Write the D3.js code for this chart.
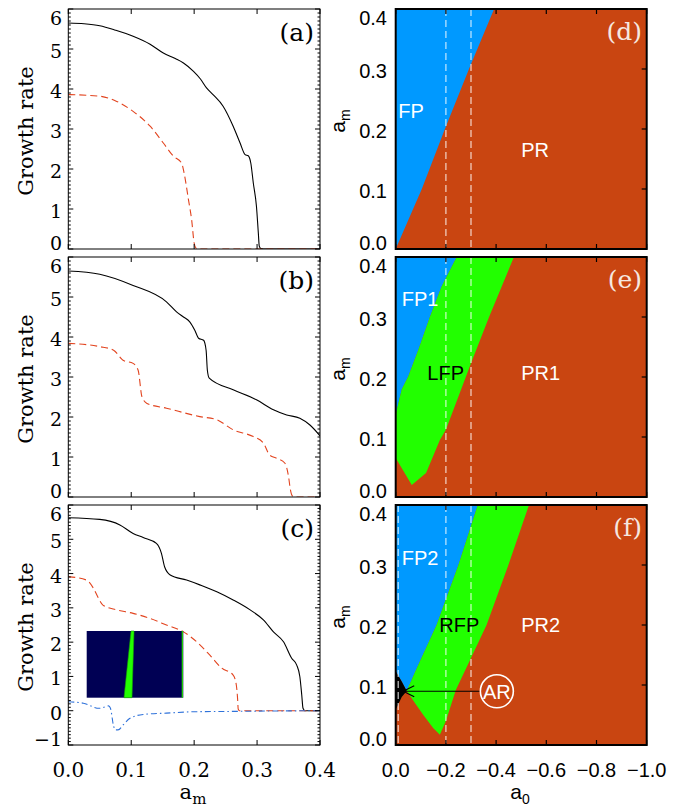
<!DOCTYPE html>
<html><head><meta charset="utf-8">
<script src="https://cdn.jsdelivr.net/npm/d3@7"></script>
<style>body{margin:0;background:#fff}</style>
</head><body>
<svg id="fig" width="692" height="808"></svg>
<script>
// ---------- tick values and labels ----------
const amTicks = [0, 0.1, 0.2, 0.3, 0.4];
const amTickLabels = ["0.0", "0.1", "0.2", "0.3", "0.4"];
const a0Ticks = [0, -0.2, -0.4, -0.6, -0.8, -1.0];
const a0TickLabels = ["0.0", "\u22120.2", "\u22120.4", "\u22120.6", "\u22120.8", "\u22121.0"];
const rateTicksAB = [0, 1, 2, 3, 4, 5, 6];
const rateTicksC = [-1, 0, 1, 2, 3, 4, 5, 6];
const leftLetters = ["(a)", "(b)", "(c)"];
const rightLetters = ["(d)", "(e)", "(f)"];

// ---------- growth rate vs a_m : [a_m, rate] ----------
const solidA = [[0,5.65],[0.025,5.63],[0.05,5.58],[0.075,5.47],[0.103,5.32],[0.13,5.12],[0.151,4.9],[0.17,4.76],[0.183,4.65],[0.199,4.44],[0.21,4.25],[0.22,4.02],[0.23,3.86],[0.246,3.57],[0.262,3.07],[0.273,2.65],[0.281,2.36],[0.286,2.33],[0.29,2.15],[0.294,1.65],[0.299,1.07],[0.302,0.4],[0.3035,0.07],[0.306,0.01],[0.31,0],[0.4,0]];
const dashA = [[0,3.86],[0.05,3.82],[0.077,3.69],[0.103,3.44],[0.13,3.07],[0.151,2.65],[0.167,2.32],[0.18,2.15],[0.184,1.9],[0.191,1.23],[0.196,0.73],[0.2,0.15],[0.203,0.02],[0.206,0],[0.4,0]];

const solidB = [[0,5.65],[0.05,5.57],[0.103,5.29],[0.156,4.88],[0.172,4.63],[0.183,4.5],[0.193,4.38],[0.201,4.17],[0.207,3.97],[0.215,3.92],[0.219,3.67],[0.221,3.17],[0.224,2.97],[0.262,2.68],[0.299,2.43],[0.326,2.18],[0.347,2.05],[0.368,1.97],[0.384,1.8],[0.4,1.53]];
const dashB = [[0,3.84],[0.05,3.76],[0.072,3.67],[0.087,3.42],[0.103,3.34],[0.111,3.17],[0.117,2.51],[0.125,2.34],[0.156,2.22],[0.209,2.01],[0.236,1.93],[0.262,1.68],[0.294,1.51],[0.31,1.35],[0.32,1.05],[0.331,0.97],[0.344,0.85],[0.35,0.51],[0.353,0.18],[0.356,0.03],[0.36,0],[0.4,0]];

const solidC = [[0,5.63],[0.05,5.58],[0.082,5.42],[0.103,5.17],[0.119,5.05],[0.14,4.88],[0.148,4.59],[0.153,4.2],[0.162,3.96],[0.188,3.81],[0.209,3.67],[0.236,3.47],[0.262,3.23],[0.289,2.94],[0.31,2.65],[0.326,2.3],[0.342,2.01],[0.355,1.53],[0.363,1.33],[0.368,0.99],[0.371,0.46],[0.373,0.07],[0.376,0],[0.4,0]];
const dashC = [[0,3.91],[0.029,3.81],[0.04,3.57],[0.048,3.28],[0.055,3.08],[0.077,2.94],[0.103,2.84],[0.13,2.69],[0.156,2.5],[0.183,2.3],[0.204,2.01],[0.225,1.62],[0.244,1.24],[0.262,1.04],[0.267,0.75],[0.269,0.36],[0.27,0.05],[0.272,0],[0.4,0]];
const dashDotC = [[0,0.26],[0.024,0.22],[0.049,0.07],[0.06,0.12],[0.064,0.14],[0.067,0.07],[0.072,-0.45],[0.075,-0.56],[0.079,-0.56],[0.088,-0.4],[0.098,-0.22],[0.119,-0.11],[0.156,-0.07],[0.2,-0.03],[0.262,-0.02],[0.315,-0.01],[0.4,0]];

// inset pattern in (c): unit square, stripe corners [x, y]
const insetStripe = [[0.386,0],[0.469,0],[0.49,1],[0.459,1]];
const insetEdge = 0.99;

// ---------- phase diagrams : boundaries as [a0, a_m] ----------
const fpEdgeD = [[0,0],[-0.104,0.1],[-0.196,0.2],[-0.292,0.3],[-0.392,0.4]];

const fp1EdgeE = [[0,0.137],[-0.024,0.179],[-0.05,0.201],[-0.09,0.245],[-0.137,0.301],[-0.183,0.351],[-0.243,0.4]];
const lfpLowerE = [[0,0.065],[-0.064,0.02],[-0.121,0.04],[-0.176,0.095]];
const lfpRightE = [[-0.176,0.095],[-0.2,0.112],[-0.3,0.223],[-0.372,0.3],[-0.471,0.4]];

const fp2EdgeF = [[-0.044,0.09],[-0.084,0.128],[-0.163,0.2],[-0.25,0.3],[-0.327,0.4]];
const rfpLowerF = [[-0.044,0.09],[-0.08,0.068],[-0.11,0.05],[-0.15,0.028],[-0.176,0.017]];
const rfpRightF = [[-0.176,0.017],[-0.2,0.04],[-0.24,0.092],[-0.3,0.145],[-0.362,0.2],[-0.449,0.3],[-0.531,0.4]];
const arRegionF = [[0,0.123],[-0.024,0.106],[-0.044,0.09],[-0.024,0.08],[-0.004,0.062],[0,0.06]];

const guideA0D = [-0.2, -0.3];
const guideA0E = [-0.2, -0.3];
const guideA0F = [-0.01, -0.2, -0.3];

const regionLabelsD = [{t:"FP", a0:-0.01, am:0.23, c:"#fff"}, {t:"PR", a0:-0.5, am:0.165, c:"#fff"}];
const regionLabelsE = [{t:"FP1", a0:-0.024, am:0.33, c:"#fff"}, {t:"LFP", a0:-0.126, am:0.207, c:"#000"}, {t:"PR1", a0:-0.5, am:0.207, c:"#fff"}];
const regionLabelsF = [{t:"FP2", a0:-0.024, am:0.312, c:"#fff"}, {t:"RFP", a0:-0.174, am:0.2, c:"#000"}, {t:"PR2", a0:-0.5, am:0.2, c:"#fff"}];
const arMarker = {a0:-0.403, am:0.0895, tipA0:-0.03};

// ---------- colours ----------
const C_FP = "#0099ff", C_PR = "#c94511", C_GREEN = "#22ff00";
const C_RED = "#e2441f", C_BLUE = "#2f72da";

// ---------- layout ----------
const rowTop = [9, 257, 505], rowH = 240;
const LX = [68.3, 320], RX = [395.7, 646.7];
const serif = "DejaVu Serif", sans = "Liberation Sans";

const svg = d3.select("#fig");
const defs = svg.append("defs");

// keep end labels inside the frame
function clampY(y, top) { return Math.max(top + 9, Math.min(top + rowH - 6, y)); }

// ---------- left column: growth rate ----------
function leftPanel(i, yDom, yTicks, series, showX) {
  const top = rowTop[i];
  const x = d3.scaleLinear().domain([0, 0.4]).range(LX);
  const y = d3.scaleLinear().domain(yDom).range([top + rowH, top]);
  const g = svg.append("g");
  const cid = "clipL" + i;
  defs.append("clipPath").attr("id", cid).append("rect")
    .attr("x", LX[0]).attr("y", top).attr("width", LX[1] - LX[0]).attr("height", rowH);

  const line = d3.line().x(d => x(d[0])).y(d => y(d[1])).curve(d3.curveMonotoneX);
  const lg = g.append("g").attr("clip-path", `url(#${cid})`);
  series.forEach(s => {
    lg.append("path").attr("d", line(s.data)).attr("fill", "none")
      .attr("stroke", s.color).attr("stroke-width", 1.1)
      .attr("stroke-dasharray", s.dash || null);
  });

  // inward ticks: y major + minor on both sides, x major top & bottom
  const tg = g.append("g").attr("stroke", "#000").attr("stroke-width", 1);
  const minor = d3.range(Math.round(yDom[0] * 10), Math.round(yDom[1] * 10) + 1).map(v => v / 10);
  minor.forEach(v => {
    const isMaj = Math.abs(v - Math.round(v)) < 1e-6;
    const len = isMaj ? 5 : 2.5;
    tg.append("line").attr("x1", LX[0]).attr("x2", LX[0] + len).attr("y1", y(v)).attr("y2", y(v));
    tg.append("line").attr("x1", LX[1]).attr("x2", LX[1] - len).attr("y1", y(v)).attr("y2", y(v));
  });
  amTicks.forEach(v => {
    tg.append("line").attr("x1", x(v)).attr("x2", x(v)).attr("y1", top).attr("y2", top + 5);
    tg.append("line").attr("x1", x(v)).attr("x2", x(v)).attr("y1", top + rowH).attr("y2", top + rowH - 5);
  });
  g.append("rect").attr("x", LX[0]).attr("y", top).attr("width", LX[1] - LX[0]).attr("height", rowH)
    .attr("fill", "none").attr("stroke", "#000").attr("stroke-width", 1);

  yTicks.forEach(v => {
    g.append("text").attr("x", 62).attr("y", clampY(y(v) + 2, top))
      .attr("text-anchor", "end").attr("dominant-baseline", "central")
      .attr("font-family", serif).attr("font-size", 19).text(v < 0 ? "\u2212" + Math.abs(v) : v);
  });
  if (showX) {
    amTicks.forEach((v, k) => {
      g.append("text").attr("x", x(v)).attr("y", top + rowH + 25)
        .attr("text-anchor", "middle").attr("dominant-baseline", "central")
        .attr("font-family", serif).attr("font-size", 20).text(amTickLabels[k]);
    });
    const xl = g.append("text").attr("x", 193).attr("y", top + rowH + 54)
      .attr("text-anchor", "middle").attr("font-family", serif).attr("font-size", 21);
    xl.append("tspan").text("a");
    xl.append("tspan").attr("dy", 5).attr("font-size", 15).text("m");
  }
  g.append("text").attr("transform", `translate(33,${top + rowH / 2 + 2}) rotate(-90)`)
    .attr("text-anchor", "middle").attr("font-family", serif).attr("font-size", 21)
    .text("Growth rate");
  g.append("text").attr("x", 314).attr("y", top + 32).attr("text-anchor", "end")
    .attr("font-family", serif).attr("font-size", 25).text(leftLetters[i]);
  return {x, y, g};
}

leftPanel(0, [0, 6], rateTicksAB, [
  {data: solidA, color: "#000"},
  {data: dashA, color: C_RED, dash: "7,4"}], false);
leftPanel(1, [0, 6], rateTicksAB, [
  {data: solidB, color: "#000"},
  {data: dashB, color: C_RED, dash: "7,4"}], false);
const pc = leftPanel(2, [-1, 6], rateTicksC, [
  {data: solidC, color: "#000"},
  {data: dashC, color: C_RED, dash: "7,4"},
  {data: dashDotC, color: C_BLUE, dash: "6,3,1.5,3"}], true);

// inset image in (c)
{
  const ix = d3.scaleLinear().domain([0, 1]).range([86.7, 183.3]);
  const iy = d3.scaleLinear().domain([0, 1]).range([697.7, 631]);
  const ig = pc.g.append("g");
  ig.append("rect").attr("x", ix(0)).attr("y", iy(1)).attr("width", ix(1) - ix(0))
    .attr("height", iy(0) - iy(1)).attr("fill", "#000054");
  ig.append("polygon").attr("points", insetStripe.map(p => [ix(p[0]), iy(p[1])].join(",")).join(" "))
    .attr("fill", C_GREEN).attr("stroke", "#17a000").attr("stroke-width", 0.6);
  ig.append("line").attr("x1", ix(insetEdge)).attr("x2", ix(insetEdge)).attr("y1", iy(0)).attr("y2", iy(1))
    .attr("stroke", "#22dd00").attr("stroke-width", 1.2);
}

// ---------- right column: phase diagrams ----------
function rightPanel(i, draw, guides, labels, showX) {
  const top = rowTop[i];
  const x = d3.scaleLinear().domain([0, -1]).range(RX);
  const y = d3.scaleLinear().domain([0, 0.4]).range([top + rowH, top]);
  const g = svg.append("g");
  const cid = "clipR" + i;
  defs.append("clipPath").attr("id", cid).append("rect")
    .attr("x", RX[0]).attr("y", top).attr("width", RX[1] - RX[0]).attr("height", rowH);
  const cg = g.append("g").attr("clip-path", `url(#${cid})`);
  cg.append("rect").attr("x", RX[0]).attr("y", top).attr("width", RX[1] - RX[0]).attr("height", rowH)
    .attr("fill", C_PR);
  const poly = (pts, fill) => cg.append("polygon")
    .attr("points", pts.map(p => [x(p[0]), y(p[1])].join(",")).join(" ")).attr("fill", fill);
  draw(poly);

  guides.forEach(v => {
    cg.append("line").attr("x1", x(v)).attr("x2", x(v)).attr("y1", top).attr("y2", top + rowH)
      .attr("stroke", "#ffffff").attr("stroke-opacity", 0.72).attr("stroke-width", 1.3)
      .attr("stroke-dasharray", "7,4");
  });

  labels.forEach(l => {
    cg.append("text").attr("x", x(l.a0)).attr("y", y(l.am)).attr("dominant-baseline", "central")
      .attr("font-family", sans).attr("font-size", 20).attr("fill", l.c).text(l.t);
  });

  const tg = g.append("g").attr("stroke", "#000").attr("stroke-width", 1.2);
  amTicks.forEach(v => {
    tg.append("line").attr("x1", RX[1]).attr("x2", RX[1] - 5).attr("y1", y(v)).attr("y2", y(v));
  });
  a0Ticks.forEach(v => {
    tg.append("line").attr("x1", x(v)).attr("x2", x(v)).attr("y1", top).attr("y2", top + 5);
    tg.append("line").attr("x1", x(v)).attr("x2", x(v)).attr("y1", top + rowH).attr("y2", top + rowH - 5);
  });
  g.append("rect").attr("x", RX[0]).attr("y", top).attr("width", RX[1] - RX[0]).attr("height", rowH)
    .attr("fill", "none").attr("stroke", "#000").attr("stroke-width", 2);

  amTicks.forEach((v, k) => {
    g.append("text").attr("x", 387).attr("y", clampY(y(v) + 1.5, top))
      .attr("text-anchor", "end").attr("dominant-baseline", "central")
      .attr("font-family", sans).attr("font-size", 20).text(amTickLabels[k]);
  });
  const yl = g.append("text").attr("transform", `translate(345,${top + rowH / 2 - 8}) rotate(-90)`)
    .attr("text-anchor", "middle").attr("font-family", sans).attr("font-size", 21);
  yl.append("tspan").text("a");
  yl.append("tspan").attr("dy", 5).attr("font-size", 14).text("m");

  if (showX) {
    a0Ticks.forEach((v, k) => {
      g.append("text").attr("x", x(v)).attr("y", top + rowH + 25)
        .attr("text-anchor", "middle").attr("dominant-baseline", "central")
        .attr("font-family", sans).attr("font-size", 20).text(a0TickLabels[k]);
    });
    const xl = g.append("text").attr("x", 520).attr("y", top + rowH + 54)
      .attr("text-anchor", "middle").attr("font-family", sans).attr("font-size", 21);
    xl.append("tspan").text("a");
    xl.append("tspan").attr("dy", 5).attr("font-size", 14).text("0");
  }
  g.append("text").attr("x", 642).attr("y", top + 31).attr("text-anchor", "end")
    .attr("font-family", serif).attr("font-size", 25).attr("fill", "#f6e8e0").text(rightLetters[i]);
  return {x, y, g, cg};
}

rightPanel(0, poly => {
  poly([[0, 0.4]].concat(fpEdgeD), C_FP);
}, guideA0D, regionLabelsD, false);

rightPanel(1, poly => {
  poly([[0, 0.4]].concat(fp1EdgeE), C_FP);
  const green = lfpLowerE.concat(lfpRightE.slice(1)).concat(fp1EdgeE.slice().reverse());
  poly(green, C_GREEN);
}, guideA0E, regionLabelsE, false);

const pf = rightPanel(2, poly => {
  poly([[0, 0.4]].concat(fp2EdgeF.slice().reverse()).concat([[-0.024, 0.106], [0, 0.123]]), C_FP);
  const green = rfpLowerF.concat(rfpRightF.slice(1)).concat(fp2EdgeF.slice().reverse());
  poly(green, C_GREEN);
  poly(arRegionF, "#000");
}, guideA0F, regionLabelsF, true);

// AR marker with arrow in (f)
{
  const {x, y, cg} = pf;
  const cx = x(arMarker.a0), cy = y(arMarker.am), r = 16.5;
  cg.append("circle").attr("cx", cx).attr("cy", cy).attr("r", r)
    .attr("fill", "none").attr("stroke", "#fff").attr("stroke-width", 1.6);
  cg.append("text").attr("x", cx).attr("y", cy + 1).attr("text-anchor", "middle")
    .attr("dominant-baseline", "central").attr("font-family", sans).attr("font-size", 20)
    .attr("fill", "#fff").text("AR");
  const tx = x(arMarker.tipA0);
  cg.append("line").attr("x1", cx - r - 1).attr("x2", tx).attr("y1", cy).attr("y2", cy)
    .attr("stroke", "#000").attr("stroke-width", 1.1);
  cg.append("path").attr("d", `M${tx + 11},${cy - 5.5}L${tx},${cy}L${tx + 11},${cy + 5.5}`)
    .attr("fill", "none").attr("stroke", "#000").attr("stroke-width", 1.1);
}
</script>
</body></html>
